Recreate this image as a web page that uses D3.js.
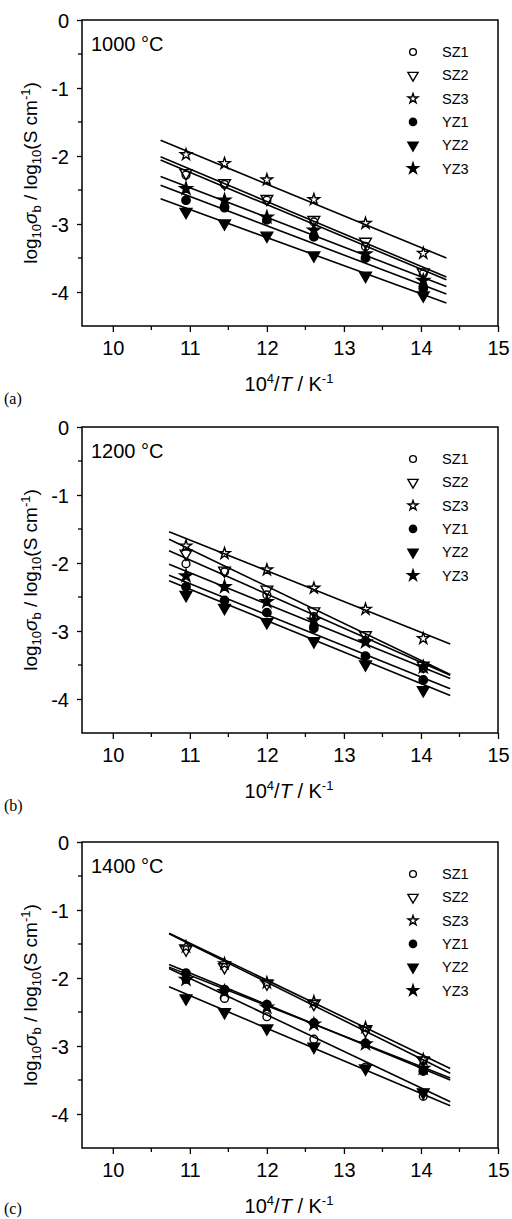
<!DOCTYPE html>
<html><head><meta charset="utf-8">
<script src="https://cdn.jsdelivr.net/npm/d3@7/dist/d3.min.js"></script>
<style>body{margin:0;background:#fff;} svg{display:block;}</style>
</head><body>
<svg id="chart" width="512" height="1219"></svg>
<script>
// ---- data ----
const temps = ["1000 °C", "1200 °C", "1400 °C"];
const panelLabels = ["(a)", "(b)", "(c)"];
const seriesNames = ["SZ1", "SZ2", "SZ3", "YZ1", "YZ2", "YZ3"];
const invT = [10.95, 11.45, 12.0, 12.61, 13.28, 14.03];
const xTicks = [10, 11, 12, 13, 14, 15];
const yTicks = [0, -1, -2, -3, -4];
// log10 sigma_b per panel (1000, 1200, 1400 °C)
const SZ1 = [[-2.28, -2.42, -2.65, -2.97, -3.33, -3.73], [-2.01, -2.13, -2.47, -2.79, -3.14, -3.55], [-2.02, -2.30, -2.57, -2.90, -3.31, -3.74]];
const SZ2 = [[-2.25, -2.40, -2.63, -2.94, -3.26, -3.71], [-1.86, -2.11, -2.39, -2.71, -3.06, -3.51], [-1.58, -1.84, -2.08, -2.38, -2.77, -3.21]];
const SZ3 = [[-1.98, -2.11, -2.35, -2.64, -2.99, -3.43], [-1.75, -1.86, -2.10, -2.37, -2.68, -3.11], [-1.54, -1.79, -2.07, -2.35, -2.73, -3.20]];
const YZ1 = [[-2.65, -2.76, -2.94, -3.19, -3.50, -3.95], [-2.35, -2.55, -2.73, -2.96, -3.37, -3.72], [-1.93, -2.17, -2.39, -2.66, -2.96, -3.37]];
const YZ2 = [[-2.82, -2.99, -3.17, -3.46, -3.76, -4.05], [-2.47, -2.66, -2.87, -3.15, -3.49, -3.87], [-2.30, -2.50, -2.74, -3.01, -3.33, -3.68]];
const YZ3 = [[-2.48, -2.65, -2.90, -3.09, -3.44, -3.83], [-2.19, -2.35, -2.57, -2.84, -3.16, -3.53], [-2.02, -2.20, -2.43, -2.68, -2.97, -3.33]];
// fitted lines: x extent and [start, end] values per panel
const fitX = [[10.62, 14.33], [10.73, 14.38], [10.73, 14.38]];
const fitSZ1 = [[-2.06, -3.82], [-1.82, -3.65], [-1.86, -3.82]];
const fitSZ2 = [[-2.01, -3.78], [-1.65, -3.64], [-1.35, -3.40]];
const fitSZ3 = [[-1.77, -3.50], [-1.54, -3.19], [-1.34, -3.33]];
const fitYZ1 = [[-2.43, -4.03], [-2.18, -3.85], [-1.80, -3.50]];
const fitYZ2 = [[-2.63, -4.16], [-2.26, -3.95], [-2.13, -3.88]];
const fitYZ3 = [[-2.30, -3.92], [-2.02, -3.70], [-1.84, -3.47]];

const seriesData = [SZ1, SZ2, SZ3, YZ1, YZ2, YZ3];
const fitData = [fitSZ1, fitSZ2, fitSZ3, fitYZ1, fitYZ2, fitYZ3];

// ---- layout ----
const svg = d3.select("#chart");
const panelTops = [20, 427, 842];
const left = 82, right = 498, plotH = 306;
const FONT = "'Liberation Sans', Arial, sans-serif";

const x = d3.scaleLinear().domain([9.6, 15]).range([left, right]);

const symbolDefs = [
  {type: d3.symbolCircle, size: 48, fill: "none", rot: 0},       // SZ1
  {type: d3.symbolTriangle, size: 60, fill: "none", rot: 180},    // SZ2
  {type: d3.symbolStar, size: 40, fill: "none", rot: 0},          // SZ3
  {type: d3.symbolCircle, size: 55, fill: "#000", rot: 0},        // YZ1
  {type: d3.symbolTriangle, size: 60, fill: "#000", rot: 180},    // YZ2
  {type: d3.symbolStar, size: 48, fill: "#000", rot: 0}           // YZ3
];

panelTops.forEach((top, p) => {
  const y = d3.scaleLinear().domain([-4.5, 0]).range([top + plotH, top]);
  const g = svg.append("g");

  g.append("rect").attr("x", left).attr("y", top).attr("width", right - left).attr("height", plotH)
    .attr("fill", "none").attr("stroke", "#000").attr("stroke-width", 1.5);

  const xAxis = d3.axisBottom(x).tickValues(xTicks).tickFormat(d3.format("d")).tickSize(6).tickSizeOuter(0);
  const xa = g.append("g").attr("transform", `translate(0,${top + plotH})`).call(xAxis);
  xa.select(".domain").remove();
  xa.selectAll("line").attr("stroke-width", 1.3);
  xa.selectAll("text").attr("font-family", FONT).attr("font-size", 20).attr("dy", "1.0em");
  const xMinor = d3.range(10.5, 15, 1);
  g.selectAll(".xminor").data(xMinor).enter().append("line")
    .attr("x1", d => x(d)).attr("x2", d => x(d)).attr("y1", top + plotH).attr("y2", top + plotH + 4)
    .attr("stroke", "#000").attr("stroke-width", 1.3);

  const yAxis = d3.axisLeft(y).tickValues(yTicks).tickFormat(d => String(d)).tickSize(5).tickSizeOuter(0);
  const ya = g.append("g").attr("transform", `translate(${left},0)`).call(yAxis);
  ya.select(".domain").remove();
  ya.selectAll("line").attr("stroke-width", 1.3);
  ya.selectAll("text").attr("font-family", FONT).attr("font-size", 20).attr("x", -13).attr("dy", "0.35em");
  const yMinor = d3.range(-0.5, -4.5, -1);
  g.selectAll(".yminor").data(yMinor).enter().append("line")
    .attr("x1", left - 4).attr("x2", left).attr("y1", d => y(d)).attr("y2", d => y(d))
    .attr("stroke", "#000").attr("stroke-width", 1.3);

  fitData.forEach((f) => {
    const [x0, x1] = fitX[p];
    g.append("line")
      .attr("x1", x(x0)).attr("y1", y(f[p][0]))
      .attr("x2", x(x1)).attr("y2", y(f[p][1]))
      .attr("stroke", "#000").attr("stroke-width", 1.6);
  });

  seriesData.forEach((sd, s) => {
    const def = symbolDefs[s];
    const sym = d3.symbol().type(def.type).size(def.size);
    g.selectAll(null).data(invT.map((t, i) => [t, sd[p][i]])).enter().append("path")
      .attr("d", sym)
      .attr("transform", d => `translate(${x(d[0])},${y(d[1])}) rotate(${def.rot})`)
      .attr("fill", def.fill === "none" ? "#fff" : def.fill)
      .attr("fill-opacity", def.fill === "none" ? 0 : 1)
      .attr("stroke", "#000").attr("stroke-width", 1.4);
  });

  g.append("text").attr("x", 91).attr("y", top + 31).attr("font-family", FONT).attr("font-size", 20).text(temps[p]);

  seriesNames.forEach((name, s) => {
    const def = symbolDefs[s];
    const ly = top + 32 + s * 23.3;
    g.append("path").attr("d", d3.symbol().type(def.type).size(def.size * 0.75))
      .attr("transform", `translate(413,${ly}) rotate(${def.rot})`)
      .attr("fill", def.fill === "none" ? "none" : def.fill)
      .attr("stroke", "#000").attr("stroke-width", 1.4);
    g.append("text").attr("x", 442).attr("y", ly).attr("dy", "0.35em")
      .attr("font-family", FONT).attr("font-size", 14.5).text(name);
  });

  const yt = g.append("text").attr("transform", `translate(37,${top + plotH / 2}) rotate(-90)`)
    .attr("text-anchor", "middle").attr("font-family", FONT).attr("font-size", 19);
  yt.append("tspan").text("log");
  yt.append("tspan").attr("font-size", 13).attr("dy", 4).text("10");
  yt.append("tspan").attr("font-style", "italic").attr("dy", -4).text("σ");
  yt.append("tspan").attr("font-size", 13).attr("dy", 4).text("b");
  yt.append("tspan").attr("dy", -4).text(" / log");
  yt.append("tspan").attr("font-size", 13).attr("dy", 4).text("10");
  yt.append("tspan").attr("dy", -4).text("(S cm");
  yt.append("tspan").attr("font-size", 13).attr("dy", -7).text("-1");
  yt.append("tspan").attr("dy", 7).text(")");

  const xt = g.append("text").attr("x", 289).attr("y", top + plotH + 65)
    .attr("text-anchor", "middle").attr("font-family", FONT).attr("font-size", 20);
  xt.append("tspan").text("10");
  xt.append("tspan").attr("font-size", 13).attr("dy", -8).text("4");
  xt.append("tspan").attr("dy", 8).text("/");
  xt.append("tspan").attr("font-style", "italic").text("T");
  xt.append("tspan").text(" / K");
  xt.append("tspan").attr("font-size", 13).attr("dy", -8).text("-1");

  g.append("text").attr("x", 4).attr("y", Math.min(top + plotH + 78, 1214))
    .attr("font-family", "'Liberation Serif', 'Times New Roman', serif").attr("font-size", 16).text(panelLabels[p]);
});
</script>
</body></html>
